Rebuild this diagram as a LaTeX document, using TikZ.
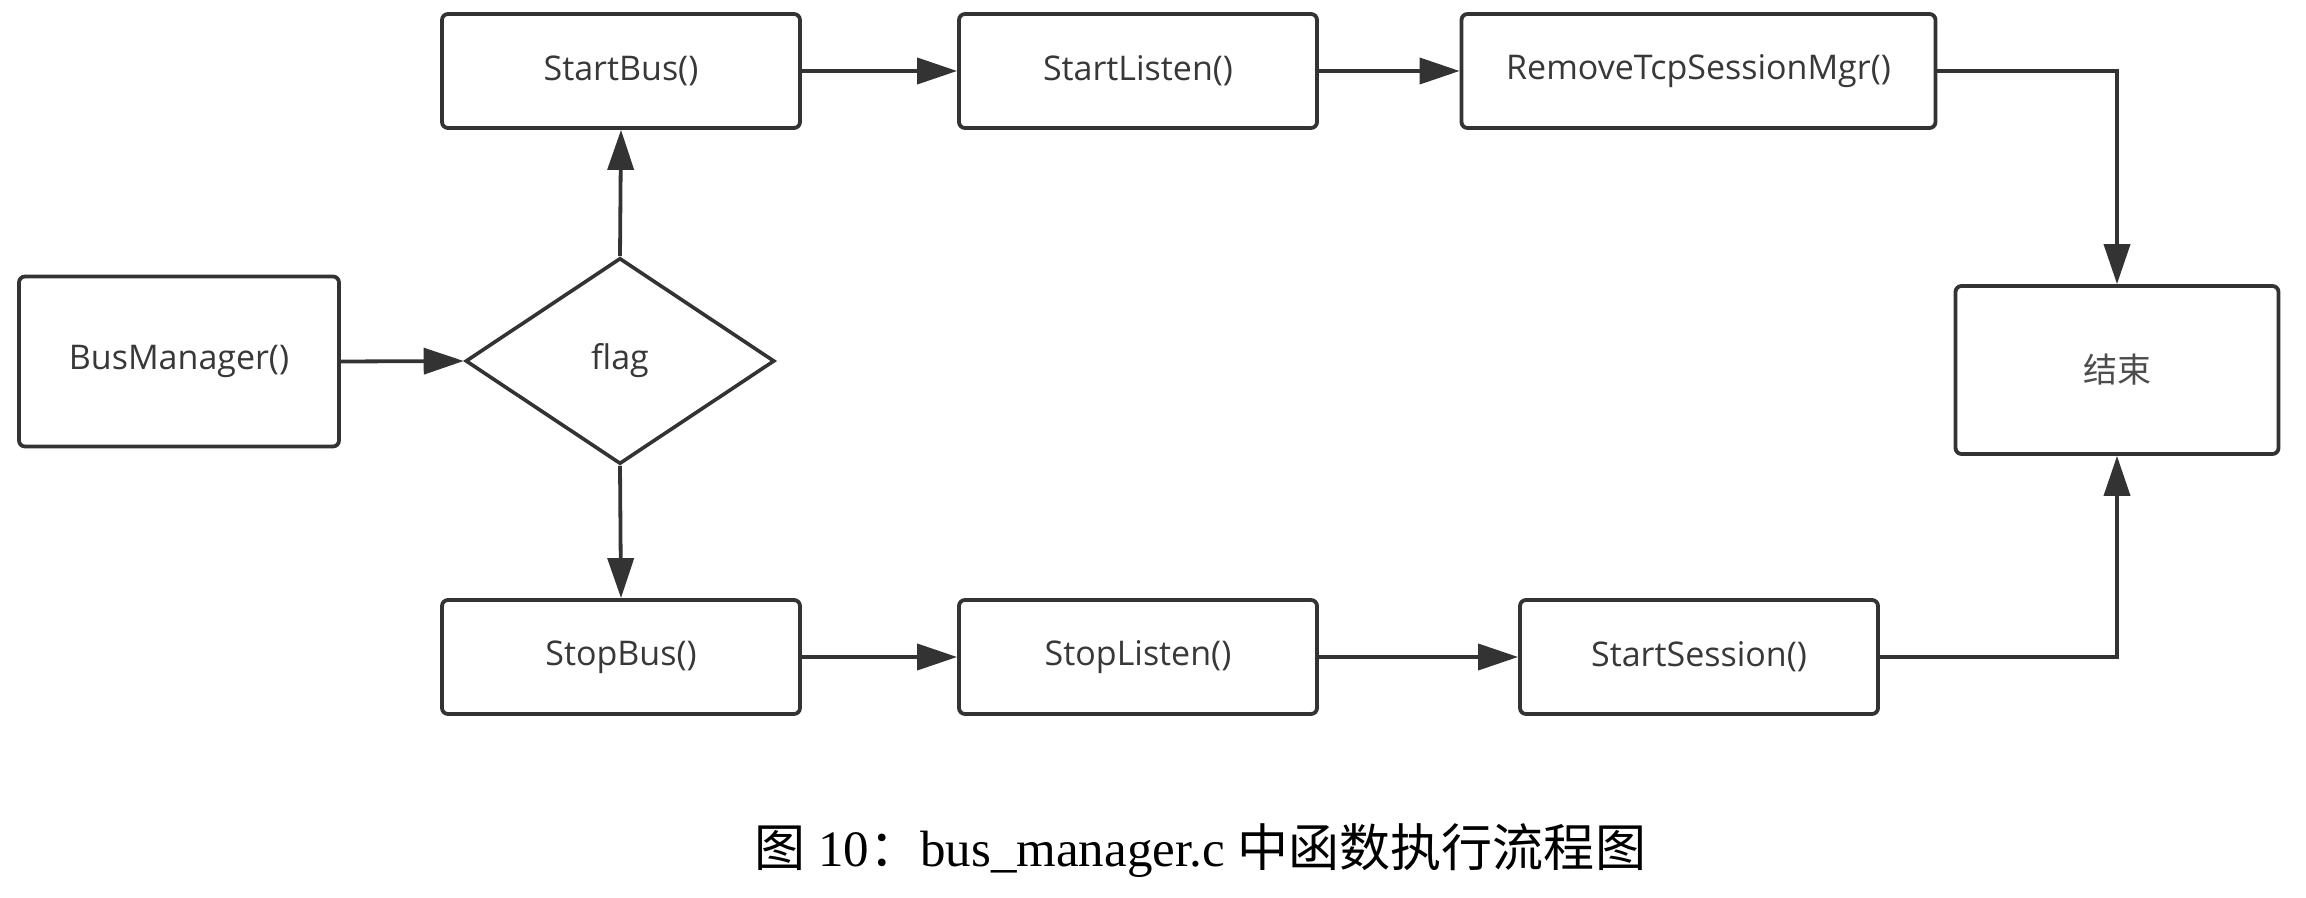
\documentclass[tikz,border=0pt]{standalone}
\usepackage{fontspec}
\setmainfont{Open Sans}
\newfontfamily\cjk{Noto Sans CJK SC}
\newfontfamily\capserif{Liberation Serif}
\usetikzlibrary{shapes.geometric,arrows.meta}
\definecolor{linec}{HTML}{333333}
\definecolor{textc}{HTML}{383838}
\tikzset{
  fbox/.style={draw=linec, line width=1.9pt, rounded corners=3pt, fill=white,
    text=textc, font=\fontsize{17}{20}\selectfont, inner sep=0pt,
    minimum width=179pt, minimum height=57pt},
  fdiam/.style={draw=linec, line width=1.8pt, diamond, fill=white, text=textc,
    font=\fontsize{17}{20}\selectfont, inner sep=0pt,
    minimum width=154.5pt, minimum height=103pt},
  flow/.style={draw=linec, line width=1.9pt, -{Triangle[length=20pt,width=13pt]}}
}
\begin{document}
\begin{tikzpicture}[x=0.5pt,y=-0.5pt]
\useasboundingbox[fill=white] (0,0) rectangle (2306,898);
\node[fbox] (startbus) at (621,71) {StartBus()};
\node[fbox] (startlisten) at (1138,71) {StartListen()};
\node[fbox, minimum width=237pt] (remove) at (1698.5,71) {RemoveTcpSessionMgr()};
\node[fbox, minimum width=160pt, minimum height=85pt] (busmgr) at (179,361.5) {BusManager()};
\node[fdiam] (flag) at (620,361) {flag};
\node[fbox, minimum width=161.5pt, minimum height=84pt, font={\cjk\fontsize{17}{20}\selectfont}, text=black!70] (end) at (2117,370) {结束};
\node[fbox] (stopbus) at (621,657) {StopBus()};
\node[fbox] (stoplisten) at (1138,657) {StopListen()};
\node[fbox] (startsession) at (1699,657) {StartSession()};
\node (caption) at (1200,851) {\fontsize{25.5}{30}\selectfont{\cjk 图} {\capserif 10}{\cjk ：}{\capserif bus\_manager.c} {\cjk 中函数执行流程图}};
\draw[flow] (busmgr.east) -- (flag.west);
\draw[flow] (flag.north) -- (startbus.south);
\draw[flow] (flag.south) -- (stopbus.north);
\draw[flow] (startbus.east) -- (startlisten.west);
\draw[flow] (startlisten.east) -- (remove.west);
\draw[flow] (remove.east) -| (end.north);
\draw[flow] (stopbus.east) -- (stoplisten.west);
\draw[flow] (stoplisten.east) -- (startsession.west);
\draw[flow] (startsession.east) -| (end.south);
\end{tikzpicture}
\end{document}
